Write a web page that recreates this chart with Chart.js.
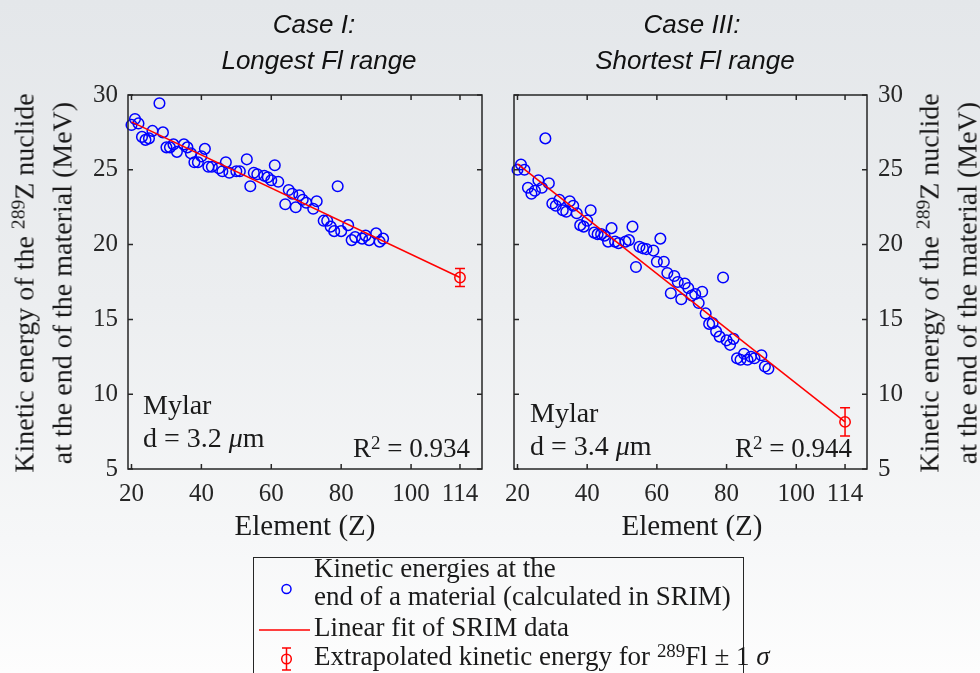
<!DOCTYPE html>
<html>
<head>
<meta charset="utf-8">
<script src="https://cdn.jsdelivr.net/npm/chart.js@4.4.1/dist/chart.umd.min.js"></script>
<style>
html, body { margin: 0; padding: 0; }
body {
    width: 980px; height: 673px; overflow: hidden; position: relative;
    background: linear-gradient(to bottom, #e4e7ea 0%, #eceef0 45%, #f6f7f8 80%, #fdfdfd 100%);
    font-family: "Liberation Serif", serif; color: #1a1a1a;
}
canvas { position: absolute; left: 0; top: 0; }
.t { position: absolute; white-space: nowrap; }
.title {
    font-family: "Liberation Sans", Arial, sans-serif; font-style: italic;
    font-size: 26px; line-height: 30px; width: 400px; text-align: center; color: #111;
}
.ylab {
    font-size: 28px; line-height: 35px; width: 460px; text-align: center;
    transform: translate(-50%, -50%) rotate(-90deg);
}
.xlab { font-size: 29px; line-height: 34px; width: 300px; text-align: center; }
.note { font-size: 28px; line-height: 33px; }
.r2 { font-size: 27px; line-height: 30px; text-align: right; }
.leg { font-size: 27px; line-height: 30px; left: 314px; }
sup { font-size: 0.7em; vertical-align: 0; position: relative; top: -0.45em; }
#legbox {
    position: absolute; left: 253px; top: 557px; width: 491px; height: 130px;
    border: 1px solid #262626; box-sizing: border-box;
}
</style>
</head>
<body>
<canvas id="chartLeft" width="980" height="673"></canvas>
<canvas id="chartRight" width="980" height="673"></canvas>

<div class="t title" style="left:114px; top:9px;">Case I:</div>
<div class="t title" style="left:119px; top:45px;">Longest Fl range</div>
<div class="t title" style="left:492px; top:9px;">Case III:</div>
<div class="t title" style="left:495px; top:45px;">Shortest Fl range</div>

<div class="t ylab" style="left:43px; top:283px;">Kinetic energy of the <sup>289</sup>Z nuclide<br>at the end of the material (MeV)</div>
<div class="t ylab" style="left:948px; top:283px;">Kinetic energy of the <sup>289</sup>Z nuclide<br>at the end of the material (MeV)</div>

<div class="t xlab" style="left:155px; top:508px;">Element (Z)</div>
<div class="t xlab" style="left:542px; top:508px;">Element (Z)</div>

<div class="t note" style="left:143px; top:388px;">Mylar<br>d = 3.2 <i>μ</i>m</div>
<div class="t note" style="left:530px; top:396px;">Mylar<br>d = 3.4 <i>μ</i>m</div>
<div class="t r2" style="right:510px; top:433px;">R<sup>2</sup> = 0.934</div>
<div class="t r2" style="right:128px; top:433px;">R<sup>2</sup> = 0.944</div>

<div id="legbox"></div>
<svg class="t" style="left:0; top:0;" width="980" height="673">
    <circle cx="286.5" cy="589" r="4.5" fill="none" stroke="#0000ff" stroke-width="1.5"></circle>
    <line x1="259" y1="630" x2="310" y2="630" stroke="#ff0000" stroke-width="1.5"></line>
    <line x1="286.5" y1="648" x2="286.5" y2="670" stroke="#ff0000" stroke-width="1.5"></line>
    <line x1="282" y1="648" x2="291" y2="648" stroke="#ff0000" stroke-width="1.5"></line>
    <line x1="282" y1="670" x2="291" y2="670" stroke="#ff0000" stroke-width="1.5"></line>
    <circle cx="286.5" cy="659" r="4.8" fill="none" stroke="#ff0000" stroke-width="1.5"></circle>
</svg>
<div class="t leg" style="top:553px;">Kinetic energies at the</div>
<div class="t leg" style="top:581px;">end of a material (calculated in SRIM)</div>
<div class="t leg" style="top:612px;">Linear fit of SRIM data</div>
<div class="t leg" style="top:641px;">Extrapolated kinetic energy for <sup>289</sup>Fl ± 1 <i>σ</i></div>

<script>
// tick labels
var xTicks = [20, 40, 60, 80, 100, 114];

// Case I (longest Fl range), SRIM energies in MeV
var leftZ = [20, 21, 22, 23, 24, 25, 26, 28, 29, 30, 31, 32, 33, 35, 36, 37, 38, 39, 40, 41,
    42, 43, 45, 46, 47, 48, 50, 51, 53, 54, 55, 56, 58, 59, 60, 61, 62, 64, 65, 66,
    67, 68, 69, 70, 72, 73, 75, 76, 77, 78, 79, 80, 82, 83, 84, 86, 87, 88, 90, 91, 92];
var leftE = [28.0, 28.4, 28.1, 27.2, 27.0, 27.1, 27.6, 29.45, 27.5, 26.5, 26.5, 26.7, 26.2, 26.7, 26.5, 26.1, 25.5, 25.5, 25.9, 26.4,
    25.2, 25.2, 25.1, 24.9, 25.5, 24.8, 24.9, 24.9, 25.7, 23.9, 24.8, 24.7, 24.6, 24.5, 24.3, 25.3, 24.2, 22.7, 23.65, 23.4,
    22.5, 23.3, 23.0, 22.8, 22.4, 22.9, 21.6, 21.6, 21.2, 20.9, 23.9, 20.9, 21.3, 20.3, 20.5, 20.4, 20.6, 20.3, 20.75, 20.2, 20.4];

// Case III (shortest Fl range)
var rightZ = [20, 21, 22, 23, 24, 25, 26, 27, 28, 29, 30, 31, 32, 33, 34, 35, 36, 37, 38, 39,
    40, 41, 42, 43, 44, 45, 46, 47, 48, 49, 51, 52, 53, 54, 55, 56, 57, 59, 60, 61,
    62, 63, 64, 65, 66, 67, 68, 69, 70, 71, 72, 73, 74, 75, 76, 77, 78, 79, 80, 81,
    82, 83, 84, 85, 86, 87, 88, 90, 91, 92];
var rightE = [25.0, 25.35, 25.0, 23.8, 23.4, 23.6, 24.3, 23.8, 27.1, 24.1, 22.75, 22.6, 23.0, 22.3, 22.2, 22.9, 22.6, 22.1, 21.3, 21.2,
    21.6, 22.3, 20.8, 20.7, 20.7, 20.6, 20.2, 21.1, 20.2, 20.1, 20.2, 20.3, 21.2, 18.5, 19.85, 19.75, 19.7, 19.6, 18.85, 20.4,
    18.85, 18.1, 16.75, 17.9, 17.5, 16.35, 17.4, 17.1, 16.6, 16.7, 16.1, 16.85, 15.4, 14.7, 14.75, 14.2, 13.85, 17.8, 13.6, 13.3,
    13.7, 12.4, 12.3, 12.7, 12.3, 12.5, 12.4, 12.6, 11.85, 11.7];

// linear fits, evaluated at the ends
var fitZ = [20, 114];
var leftFit = [28.2, 17.8];
var rightFit = [25.4, 8.15];

// extrapolated value for 289Fl (Z = 114) with 1 sigma
var flZ = [114];
var leftFl = [17.8];
var leftFlErr = [0.6];
var rightFl = [8.15];
var rightFlErr = [0.95];

function toPoints(xs, ys) {
    return xs.map(function(x, i) { return { x: x, y: ys[i] }; });
}

var axesBox = {
    id: 'axesBox',
    afterDatasetsDraw: function(chart) {
        var a = chart.chartArea, ctx = chart.ctx;
        var sx = chart.scales.x, sy = chart.scales.y;
        ctx.save();
        ctx.strokeStyle = '#262626';
        ctx.lineWidth = 1.5;
        ctx.strokeRect(a.left, a.top, a.right - a.left, a.bottom - a.top);
        ctx.beginPath();
        sx.ticks.forEach(function(t) {
            var px = sx.getPixelForValue(t.value);
            ctx.moveTo(px, a.bottom); ctx.lineTo(px, a.bottom - 5);
            ctx.moveTo(px, a.top); ctx.lineTo(px, a.top + 5);
        });
        sy.ticks.forEach(function(t) {
            var py = sy.getPixelForValue(t.value);
            ctx.moveTo(a.left, py); ctx.lineTo(a.left + 5, py);
            ctx.moveTo(a.right, py); ctx.lineTo(a.right - 5, py);
        });
        ctx.stroke();

        // error bars
        chart.data.datasets.forEach(function(ds) {
            if (!ds.errors) return;
            ctx.strokeStyle = ds.borderColor;
            ctx.lineWidth = 1.5;
            ds.data.forEach(function(p, i) {
                var px = sx.getPixelForValue(p.x);
                var top = sy.getPixelForValue(p.y + ds.errors[i]);
                var bot = sy.getPixelForValue(p.y - ds.errors[i]);
                ctx.beginPath();
                ctx.moveTo(px, top); ctx.lineTo(px, bot);
                ctx.moveTo(px - 5, top); ctx.lineTo(px + 5, top);
                ctx.moveTo(px - 5, bot); ctx.lineTo(px + 5, bot);
                ctx.stroke();
            });
        });
        ctx.restore();
    }
};

function makeChart(id, zs, es, fit, fl, flErr, side) {
    var tickFont = { family: 'Liberation Serif', size: 25 };
    var padding = side === 'left'
        ? { left: 68, top: 95, right: 498, bottom: 154 }
        : { left: 514, top: 95, right: 53, bottom: 154 };

    return new Chart(document.getElementById(id), {
        type: 'scatter',
        data: {
            datasets: [
                {
                    data: toPoints(fitZ, fit),
                    showLine: true,
                    borderColor: '#ff0000',
                    borderWidth: 1.5,
                    pointRadius: 0,
                    order: 0
                },
                {
                    data: toPoints(flZ, fl),
                    errors: flErr,
                    borderColor: '#ff0000',
                    backgroundColor: 'rgba(0,0,0,0)',
                    pointRadius: 5.2,
                    borderWidth: 1.5,
                    order: 1
                },
                {
                    data: toPoints(zs, es),
                    borderColor: '#0000ff',
                    backgroundColor: 'rgba(0,0,0,0)',
                    pointRadius: 5.3,
                    borderWidth: 1.5,
                    order: 2
                }
            ]
        },
        options: {
            responsive: false,
            animation: false,
            events: [],
            clip: false,
            layout: { padding: padding },
            plugins: { legend: { display: false }, tooltip: { enabled: false } },
            scales: {
                x: {
                    type: 'linear',
                    min: 19,
                    max: 120.3,
                    grid: { display: false, drawTicks: false },
                    border: { display: false },
                    afterBuildTicks: function(s) {
                        s.ticks = xTicks.map(function(v) { return { value: v }; });
                    },
                    afterFit: function(s) { s.height = 50; },
                    ticks: { font: tickFont, color: '#262626', padding: 10, maxRotation: 0, autoSkip: false }
                },
                y: {
                    position: side,
                    min: 5,
                    max: 30,
                    grid: { display: false, drawTicks: false },
                    border: { display: false },
                    afterFit: function(s) { s.width = 60; },
                    ticks: { font: tickFont, color: '#262626', padding: side === 'left' ? 10 : 11, stepSize: 5 }
                }
            }
        },
        plugins: [axesBox]
    });
}

makeChart('chartLeft', leftZ, leftE, leftFit, leftFl, leftFlErr, 'left');
makeChart('chartRight', rightZ, rightE, rightFit, rightFl, rightFlErr, 'right');
</script>
</body>
</html>
